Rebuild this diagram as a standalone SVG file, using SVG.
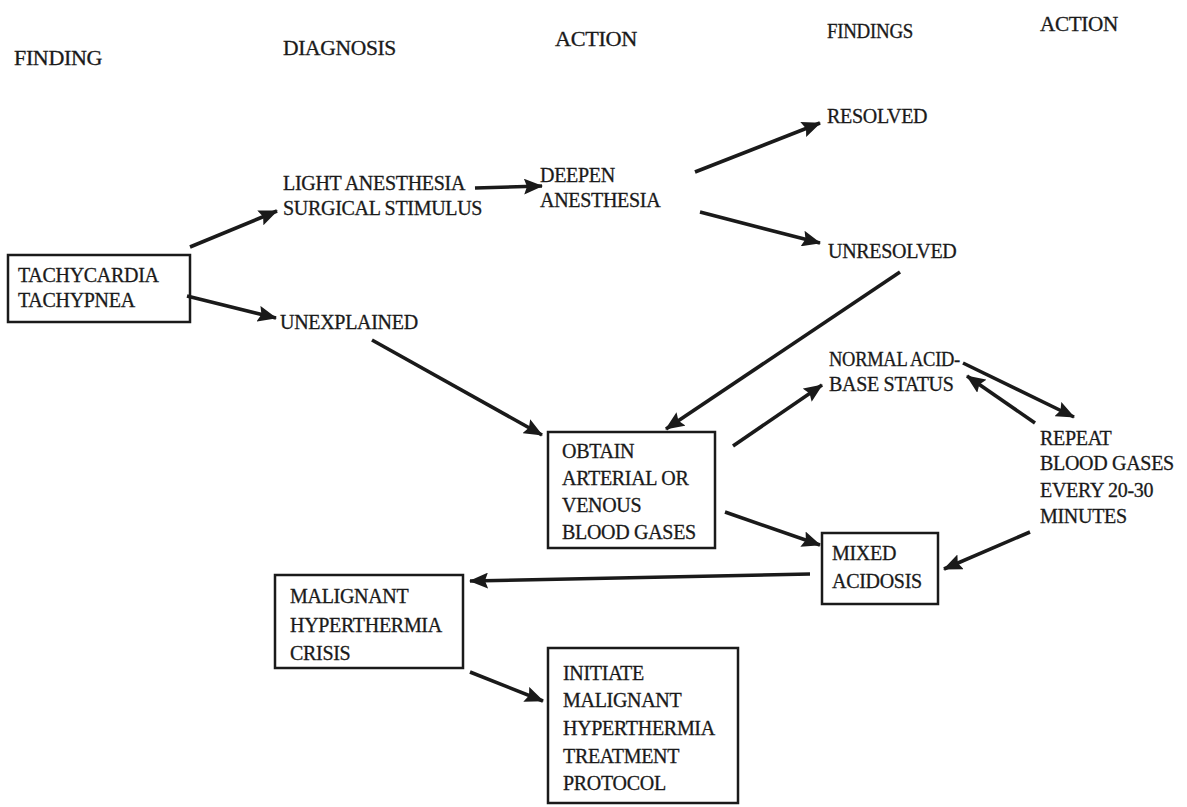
<svg xmlns="http://www.w3.org/2000/svg" width="1187" height="807" viewBox="0 0 1187 807">
<style>
text{font-family:"Liberation Serif","Times New Roman",serif;font-size:20px;fill:#1a1a1a;stroke:#1a1a1a;stroke-width:0.3;letter-spacing:-0.3px}
.h{font-size:20px}
.box{fill:none;stroke:#1a1a1a;stroke-width:2.5}
.c line{stroke:#1a1a1a;stroke-width:3.6;marker-end:url(#ah)}
</style>
<defs>
<marker id="ah" markerUnits="userSpaceOnUse" markerWidth="20" markerHeight="16" refX="18" refY="8" orient="auto">
<path d="M0,0 L19,8 L0,16 L3,8 Z" fill="#1a1a1a"/>
</marker>
</defs>
<rect width="1187" height="807" fill="#fff"/>
<g id="headers">
<text class="h" x="14" y="65" textLength="88" lengthAdjust="spacingAndGlyphs">FINDING</text>
<text class="h" x="283" y="55" textLength="113" lengthAdjust="spacingAndGlyphs">DIAGNOSIS</text>
<text class="h" x="555" y="46" textLength="82" lengthAdjust="spacingAndGlyphs">ACTION</text>
<text class="h" x="827" y="38" textLength="86" lengthAdjust="spacingAndGlyphs">FINDINGS</text>
<text class="h" x="1040" y="31" textLength="78" lengthAdjust="spacingAndGlyphs">ACTION</text>
</g>
<g id="tachy"><rect class="box" x="8" y="255" width="182" height="67"/><text x="18" y="282">TACHYCARDIA</text><text x="18" y="307">TACHYPNEA</text></g>
<g id="light"><text x="283" y="190">LIGHT ANESTHESIA</text><text x="283" y="215">SURGICAL STIMULUS</text></g>
<g id="unexplained"><text x="280" y="329">UNEXPLAINED</text></g>
<g id="deepen"><text x="540" y="182">DEEPEN</text><text x="540" y="207">ANESTHESIA</text></g>
<g id="resolved"><text x="827" y="123">RESOLVED</text></g>
<g id="unresolved"><text x="828" y="258">UNRESOLVED</text></g>
<g id="normal"><text x="829" y="366" textLength="131" lengthAdjust="spacingAndGlyphs">NORMAL ACID-</text><text x="829" y="391">BASE STATUS</text></g>
<g id="repeat"><text x="1040" y="445">REPEAT</text><text x="1040" y="470">BLOOD GASES</text><text x="1040" y="497">EVERY 20-30</text><text x="1040" y="523">MINUTES</text></g>
<g id="obtain"><rect class="box" x="548" y="432" width="167" height="116"/><text x="562" y="458">OBTAIN</text><text x="562" y="485">ARTERIAL OR</text><text x="562" y="512">VENOUS</text><text x="562" y="539">BLOOD GASES</text></g>
<g id="mixed"><rect class="box" x="822" y="533" width="116" height="71"/><text x="832" y="560">MIXED</text><text x="832" y="588">ACIDOSIS</text></g>
<g id="mh"><rect class="box" x="275" y="575" width="188" height="93"/><text x="290" y="603">MALIGNANT</text><text x="290" y="632">HYPERTHERMIA</text><text x="290" y="660">CRISIS</text></g>
<g id="initiate"><rect class="box" x="548" y="648" width="190" height="155"/><text x="563" y="680">INITIATE</text><text x="563" y="707">MALIGNANT</text><text x="563" y="735">HYPERTHERMIA</text><text x="563" y="763">TREATMENT</text><text x="563" y="790">PROTOCOL</text></g>
<g class="c" id="connectors">
<line x1="190" y1="247" x2="277" y2="211"/>
<line x1="187" y1="296" x2="276" y2="318"/>
<line x1="475" y1="188" x2="542" y2="186"/>
<line x1="695" y1="172" x2="820" y2="123"/>
<line x1="700" y1="212" x2="820" y2="243"/>
<line x1="900" y1="272" x2="666" y2="429"/>
<line x1="372" y1="340" x2="542" y2="435"/>
<line x1="733" y1="446" x2="822" y2="385"/>
<line x1="963" y1="363" x2="1074" y2="417"/>
<line x1="1035" y1="423" x2="967" y2="376"/>
<line x1="1030" y1="532" x2="944" y2="569"/>
<line x1="725" y1="512" x2="820" y2="545"/>
<line x1="810" y1="574" x2="470" y2="581"/>
<line x1="470" y1="672" x2="543" y2="701"/>
</g>
</svg>
